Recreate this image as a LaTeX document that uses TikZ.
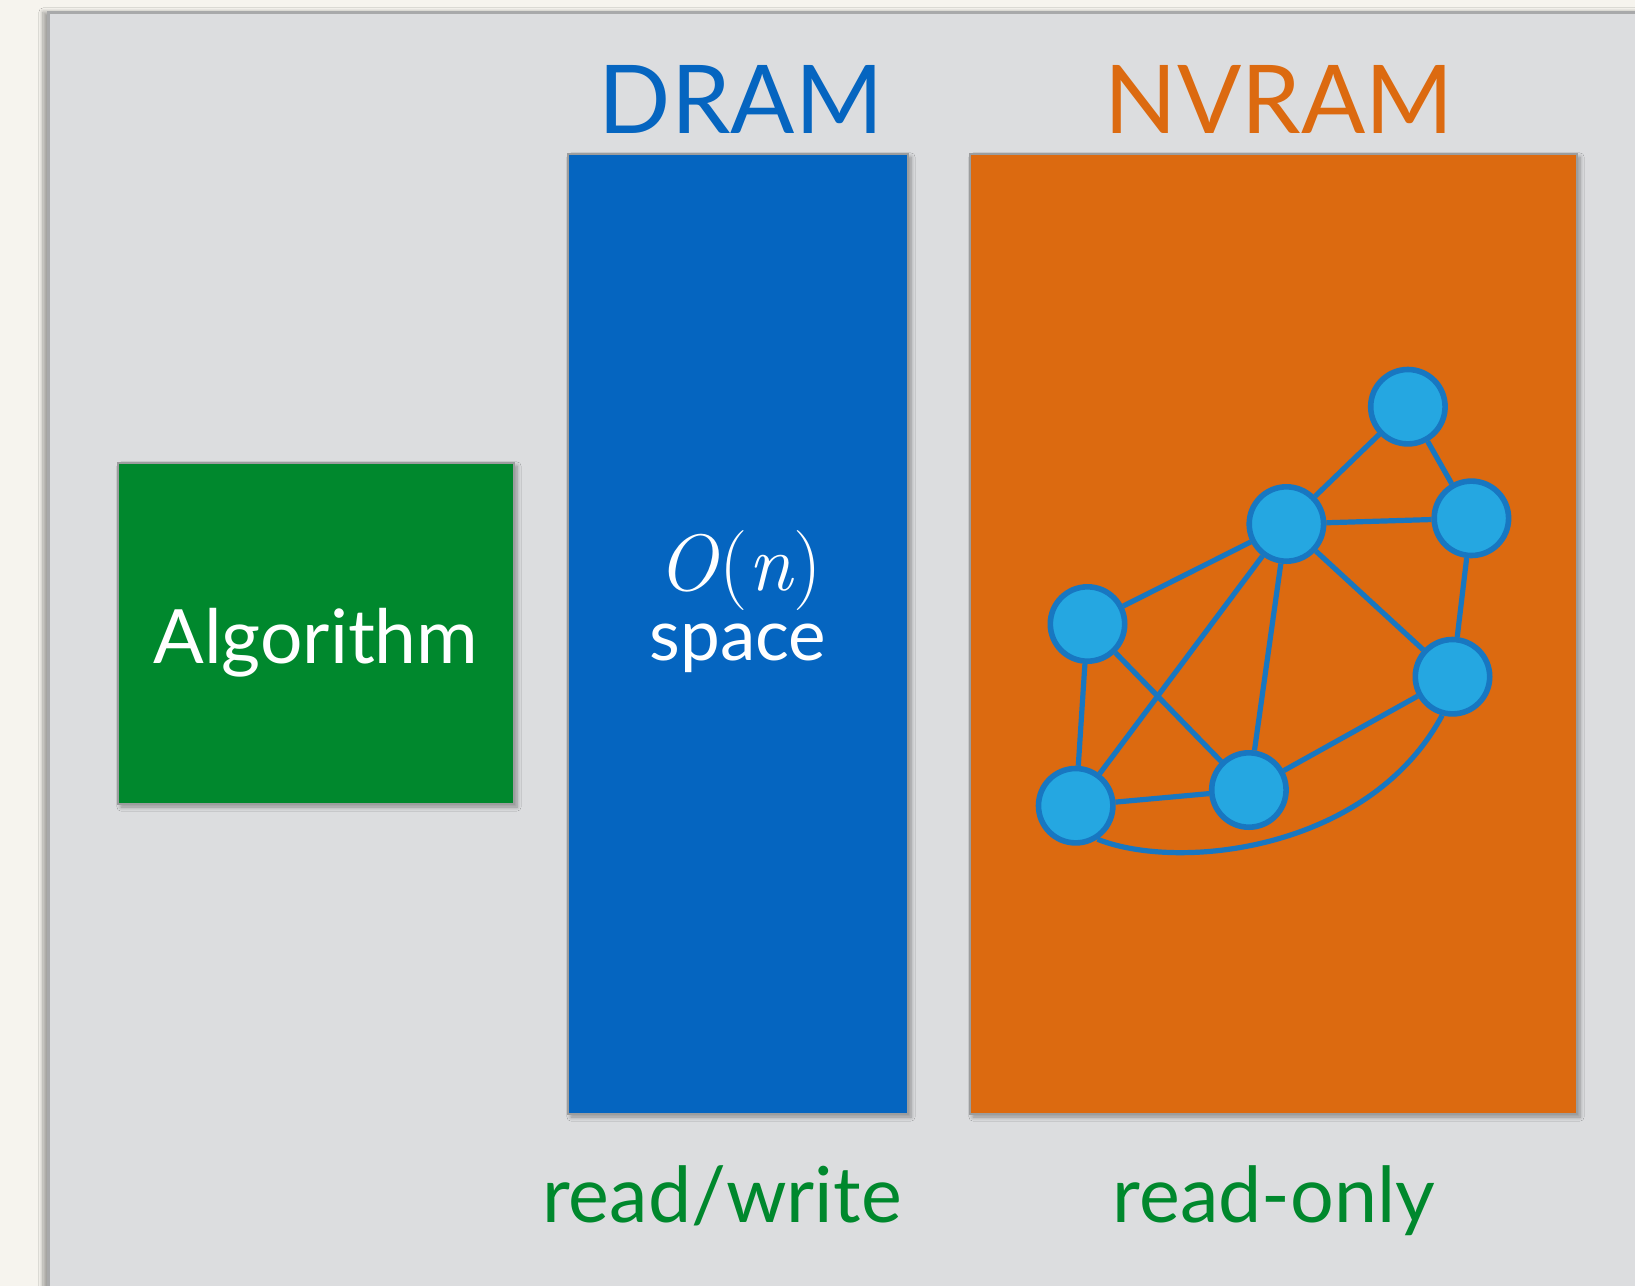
\documentclass[tikz,border=0pt]{standalone}
\usepackage{fontspec}
\setmainfont{Lato}
\newfontfamily\lmfont{Latin Modern Roman}
\usetikzlibrary{shadows.blur}

\definecolor{pagebg}{HTML}{F6F4EE}
\definecolor{panelbg}{HTML}{DCDDDF}
\definecolor{panelrule}{HTML}{A8A9AA}
\definecolor{boxrule}{HTML}{9C9D9E}
\definecolor{algogreen}{HTML}{00882D}
\definecolor{dramblue}{HTML}{0565C0}
\definecolor{nvorange}{HTML}{DC6A10}
\definecolor{vertexfill}{HTML}{25A7E1}
\definecolor{edgeblue}{HTML}{1877C1}

\tikzset{
  membox/.style={rectangle, draw=boxrule, line width=1pt, inner sep=0pt,
    blur shadow={shadow xshift=1.5pt, shadow yshift=-1.5pt,
                 shadow blur steps=6, shadow opacity=35}},
  title/.style={anchor=base, inner sep=0pt, font=\fontsize{47.5}{50}\selectfont},
  boxtext/.style={anchor=base, inner sep=0pt, text=white},
  access/.style={anchor=base, inner sep=0pt, text=algogreen, font=\fontsize{38.6}{42}\selectfont},
  vertex/.style={circle, draw=edgeblue, fill=vertexfill, line width=2.8pt,
    minimum size=37.2pt, inner sep=0pt},
  link/.style={draw=edgeblue, line width=2.6pt}
}

\begin{document}
\begin{tikzpicture}[x=0.5pt, y=-0.5pt]
  % page and slide panel
  \fill[pagebg] (0,0) rectangle (1635,1286);
  \useasboundingbox (0,0) rectangle (1635,1286);
  \path[fill=panelbg, draw=panelrule, line width=1.5pt,
        blur shadow={shadow xshift=-2.5pt, shadow yshift=0pt,
                     shadow blur steps=8, shadow opacity=35}]
    (48,12) rectangle (1680,1330);

  % memory boxes
  \node[membox, fill=algogreen, minimum width=198pt, minimum height=170.5pt]
    (algo) at (316,633.5) {};
  \node[membox, fill=dramblue, minimum width=170pt, minimum height=480pt]
    (dram) at (738,634) {};
  \node[membox, fill=nvorange, minimum width=303.5pt, minimum height=480pt]
    (nvram) at (1273.5,634) {};

  % titles
  \node[title, text=dramblue] (dramtitle) at (741,133.5) {DRAM};
  \node[title, text=nvorange] (nvtitle) at (1279,133.5) {NVRAM};

  % box texts
  \node[boxtext, font=\fontsize{37.5}{42}\selectfont] (algotext) at (316,663) {Algorithm};
  \node[boxtext, font=\fontsize{40}{44}\selectfont\lmfont]
    (bigO) at (740,590) {\textit{O}(\textit{n})};
  \node[boxtext, font=\fontsize{35.5}{40}\selectfont] (spacetext) at (738,660) {space};

  % access modes
  \node[access] (rw) at (722,1222) {read/write};
  \node[access] (ro) at (1274,1222) {read-only};

  % graph stored in NVRAM
  \node[vertex] (n1) at (1407.9,406.7) {};
  \node[vertex] (n2) at (1286.4,524) {};
  \node[vertex] (n3) at (1471.4,518.3) {};
  \node[vertex] (n4) at (1087.5,624) {};
  \node[vertex] (n5) at (1452.5,676.7) {};
  \node[vertex] (n6) at (1248.9,790) {};
  \node[vertex] (n7) at (1075.7,805.7) {};

  \path[link] (n1) -- (n2);
  \path[link] (n1) -- (n3);
  \path[link] (n2) -- (n3);
  \path[link] (n2) -- (n4);
  \path[link] (n2) -- (n7);
  \path[link] (n2) -- (n6);
  \path[link] (n2) -- (n5);
  \path[link] (n3) -- (n5);
  \path[link] (n4) -- (n7);
  \path[link] (n4) -- (n6);
  \path[link] (n7) -- (n6);
  \path[link] (n6) -- (n5);
  \path[link] (n7.-57) .. controls (1180,872) and (1370,850) .. (n5.-105);
\end{tikzpicture}
\end{document}
